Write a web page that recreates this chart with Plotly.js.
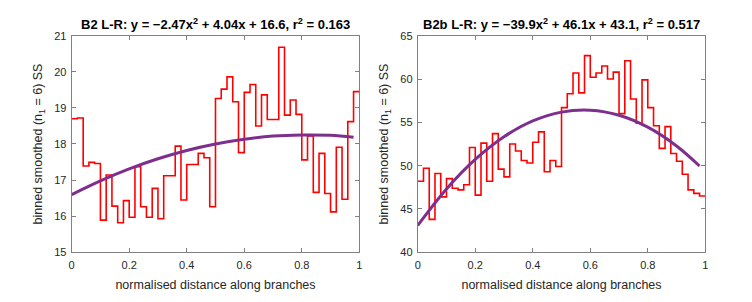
<!DOCTYPE html>
<html>
<head>
<meta charset="utf-8">
<script src="https://cdn.plot.ly/plotly-3.0.1.min.js"></script>
<style>html,body{margin:0;padding:0;background:#fff;}#chart{width:752px;height:302px;}</style>
</head>
<body>
<div id="chart"></div>
<script>
// Bin edges along normalised distance (50 bins of width 0.02)
const binEdges = [0,0.02,0.04,0.06,0.08,0.10,0.12,0.14,0.16,0.18,0.20,0.22,0.24,0.26,0.28,0.30,0.32,0.34,0.36,0.38,0.40,0.42,0.44,0.46,0.48,0.50,0.52,0.54,0.56,0.58,0.60,0.62,0.64,0.66,0.68,0.70,0.72,0.74,0.76,0.78,0.80,0.82,0.84,0.86,0.88,0.90,0.92,0.94,0.96,0.98,1.00];

// B2 binned smoothed SS (one value per bin)
const b2Values = [18.70,18.72,17.39,17.49,17.46,15.89,17.14,16.28,15.82,16.43,15.97,17.37,16.26,15.97,16.77,15.93,17.12,17.12,17.94,16.45,17.43,17.43,17.74,17.62,16.26,19.26,19.52,19.86,19.17,17.76,19.43,19.65,18.50,19.36,18.68,18.68,20.68,18.80,19.22,18.82,17.56,18.22,16.66,17.74,16.63,16.12,17.91,16.47,18.62,19.45];

// B2b binned smoothed SS (one value per bin)
const b2bValues = [48.2,49.7,43.8,49.1,46.4,48.5,47.4,47.2,47.8,52.1,46.6,52.6,48.2,53.7,49.6,48.7,52.5,51.7,50.6,50.3,52.7,53.9,49.3,50.6,49.9,56.7,58.3,60.7,58.4,62.7,60.2,60.7,61.5,60.0,60.8,56.0,62.1,57.7,54.9,59.9,56.7,54.6,52.0,54.5,51.4,50.5,49.0,47.2,46.8,46.5];

// Quadratic fit curves, sampled points
const fitX = [0,0.1,0.2,0.3,0.4,0.5,0.6,0.7,0.8,0.9,0.98];
const b2Fit = [16.60,16.98,17.31,17.59,17.82,18.00,18.13,18.22,18.25,18.24,18.19];
const b2bFit = [43.10,47.31,50.72,53.34,55.16,56.18,56.40,55.82,54.44,52.27,49.96];

// Titles and labels
const titleB2 = "B2 L-R: y = −2.47x<sup>2</sup> + 4.04x + 16.6, r<sup>2</sup> = 0.163";
const titleB2b = "B2b L-R: y = −39.9x<sup>2</sup> + 46.1x + 43.1, r<sup>2</sup> = 0.517";
const xLabel = "normalised distance along branches";
const yLabel = "binned smoothed (n<sub>1</sub> = 6) SS";
const xTicks = [0,0.2,0.4,0.6,0.8,1];
const xTickText = ["0","0.2","0.4","0.6","0.8","1"];

const RED = "#ff0000", PURPLE = "#7E2F8E";
const FONT = "Liberation Sans, Arial, Helvetica, sans-serif";

function stepY(vals){ return vals.concat([vals[vals.length-1]]); }

const traces = [
  {x: binEdges, y: stepY(b2Values), type:"scatter", mode:"lines", line:{shape:"hv", color:RED, width:1.6}, xaxis:"x", yaxis:"y", hoverinfo:"skip"},
  {x: fitX, y: b2Fit, type:"scatter", mode:"lines", line:{shape:"spline", color:PURPLE, width:3}, xaxis:"x", yaxis:"y", hoverinfo:"skip"},
  {x: binEdges, y: stepY(b2bValues), type:"scatter", mode:"lines", line:{shape:"hv", color:RED, width:1.6}, xaxis:"x2", yaxis:"y2", hoverinfo:"skip"},
  {x: fitX, y: b2bFit, type:"scatter", mode:"lines", line:{shape:"spline", color:PURPLE, width:3}, xaxis:"x2", yaxis:"y2", hoverinfo:"skip"}
];

function xAx(domain, anchor){
  return {domain: domain, anchor: anchor, range:[0,1], tickvals:xTicks, ticktext:xTickText,
    ticks:"inside", ticklen:4, tickcolor:"#808080", showline:true, linecolor:"#808080", linewidth:1,
    mirror:"ticks", showgrid:false, zeroline:false, ticklabelstandoff:3,
    tickfont:{size:11, color:"#262626", family:FONT},
    title:{text:xLabel, font:{size:12.5, color:"#262626", family:FONT}, standoff:9}, automargin:false};
}
function yAx(domain, anchor, range, dtick){
  return {domain: domain, anchor: anchor, range:range, dtick:dtick, tick0:range[0],
    ticks:"inside", ticklen:4, tickcolor:"#808080", showline:true, linecolor:"#808080", linewidth:1,
    mirror:"ticks", showgrid:false, zeroline:false, ticklabelstandoff:2,
    tickfont:{size:11, color:"#262626", family:FONT},
    title:{text:yLabel, font:{size:12.5, color:"#262626", family:FONT}, standoff:8}, automargin:false};
}

const yDom = [0.1646, 0.8818];
const layout = {
  width:752, height:302, margin:{l:0,r:0,t:0,b:0}, paper_bgcolor:"#fff", plot_bgcolor:"#fff",
  showlegend:false, font:{family:FONT},
  xaxis: xAx([0.0953,0.4778], "y"),
  yaxis: yAx(yDom, "x", [15,21], 1),
  xaxis2: xAx([0.5555,0.9379], "y2"),
  yaxis2: yAx(yDom, "x2", [40,65], 5),
  annotations: [
    {text:"<b>"+titleB2+"</b>", xref:"paper", yref:"paper", x:(0.0953+0.4778)/2, y:(302-24)/302, xanchor:"center", yanchor:"middle", showarrow:false, font:{size:13, color:"#000", family:FONT}},
    {text:"<b>"+titleB2b+"</b>", xref:"paper", yref:"paper", x:(0.5555+0.9379)/2, y:(302-24)/302, xanchor:"center", yanchor:"middle", showarrow:false, font:{size:13, color:"#000", family:FONT}}
  ]
};

Plotly.newPlot("chart", traces, layout, {staticPlot:true, displayModeBar:false});
</script>
</body>
</html>
